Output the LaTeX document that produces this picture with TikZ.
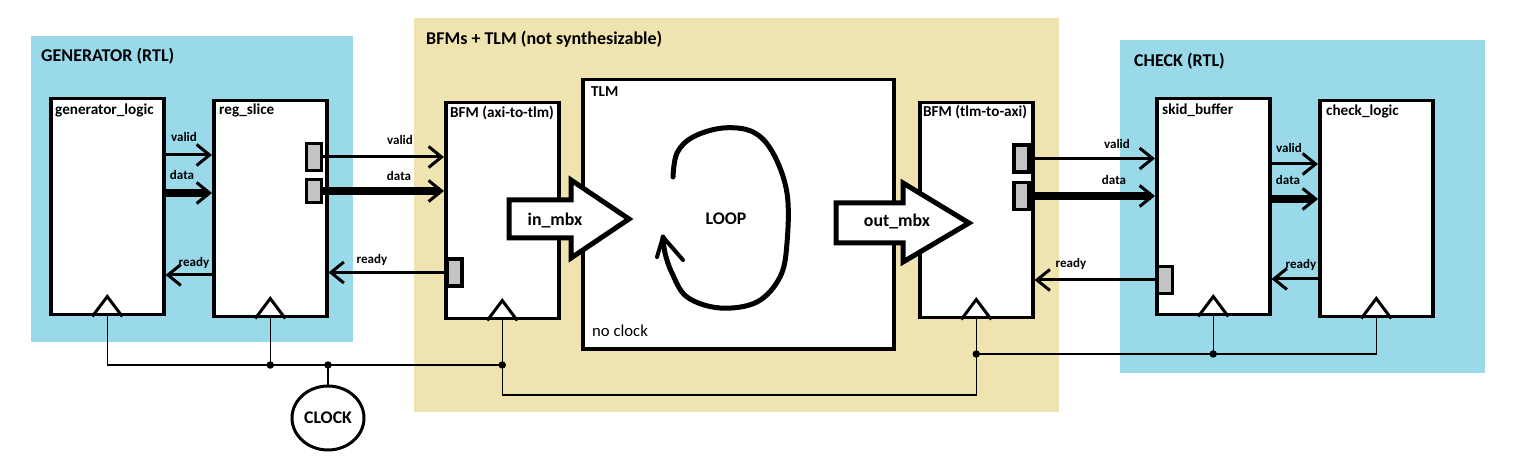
\documentclass[tikz,border=0pt]{standalone}
\usepackage{fontspec}
\setmainfont{Carlito}
\usetikzlibrary{arrows.meta,shapes.geometric}
\definecolor{rtlblue}{HTML}{99D9EA}
\definecolor{bfmtan}{HTML}{EFE4B0}
\definecolor{portgray}{HTML}{C3C3C3}
\tikzset{
  blk/.style={draw, line width=3.5pt, fill=white, anchor=north west, inner sep=0pt, minimum width=113pt, minimum height=216pt},
  port/.style={draw, line width=3.5pt, fill=portgray, inner sep=0pt, minimum width=15pt, minimum height=27pt},
  clktri/.style={draw, line width=3pt, line join=miter},
  wire/.style={line width=1.4pt},
  jdot/.style={circle, fill=black, inner sep=0pt, minimum size=7.5pt},
  sig/.style={line width=3pt, -{Straight Barb[length=13pt,width=21pt,line width=3pt]}},
  bus/.style={line width=7.5pt, -{Straight Barb[length=13pt,width=21pt,line width=3pt]}},
  gtitle/.style={font=\bfseries\fontsize{18}{21}\selectfont, anchor=west, inner sep=0pt, text height=12.5pt, text depth=4pt},
  btitle/.style={font=\bfseries\fontsize{15.2}{18}\selectfont, anchor=west, inner sep=0pt, text height=11pt, text depth=3.5pt},
  plaintitle/.style={font=\fontsize{16.7}{19}\selectfont, anchor=west, inner sep=0pt, text height=12pt, text depth=4pt},
  slabel/.style={font=\bfseries\fontsize{13}{15}\selectfont, inner sep=0pt, text height=9pt, text depth=3pt},
  biglabel/.style={font=\bfseries\fontsize{17.8}{20}\selectfont, inner sep=0pt, text height=12.5pt, text depth=3pt},
  mbx/.style={draw, line width=5pt, fill=white, line join=miter},
  loopline/.style={line width=5pt, line cap=round, line join=round},
}
\begin{document}
\begin{tikzpicture}[x=1pt,y=-1pt]
\useasboundingbox (0,0) rectangle (1518,470);
% background regions
\fill[rtlblue] (31,36) rectangle (353,342);
\fill[bfmtan] (414,18) rectangle (1059,412);
\fill[rtlblue] (1120,40) rectangle (1485,373);
\node[gtitle] (tgen) at (41,57) {GENERATOR (RTL)};
\node[gtitle] (tbfm) at (426,40) {BFMs + TLM (not synthesizable)};
\node[gtitle] (tchk) at (1134,62) {CHECK (RTL)};

% blocks
\node[blk] (genl) at (49,97) {};
\node[blk] (regs) at (212,99) {};
\node[blk] (bfmi) at (444,101) {};
\node[blk, minimum width=311pt, minimum height=269pt] (tlm) at (581,78) {};
\node[blk, minimum height=215pt] (bfmo) at (918,101) {};
\node[blk] (skid) at (1155,97) {};
\node[blk] (chkl) at (1318,99) {};

\node[btitle] (tgl) at (55,111) {generator\_logic};
\node[btitle] (trs) at (219,111) {reg\_slice};
\node[btitle] (tbi) at (450,114) {BFM (axi-to-tlm)};
\node[btitle] (ttl) at (591,93) {TLM};
\node[plaintitle] (tnc) at (592,333) {no clock};
\node[btitle] (tbo) at (923,113) {BFM (tlm-to-axi)};
\node[btitle] (tsb) at (1162,111) {skid\_buffer};
\node[btitle] (tcl) at (1326,112) {check\_logic};

% clock triangles
\foreach \b in {genl,regs,bfmi,bfmo,skid,chkl}{
  \draw[clktri] ([xshift=-15pt]\b.south) -- ([yshift=20pt]\b.south) -- ([xshift=15pt]\b.south);
}

% clock network
\node[draw, ellipse, line width=3pt, minimum width=72pt, minimum height=64pt, fill=white, inner sep=0pt, font=\bfseries\fontsize{17.8}{20}\selectfont] (clk) at (328,418) {CLOCK};
\coordinate (hy) at (0,365);
\coordinate (hy2) at (0,354);
\coordinate (ly) at (0,395);
\coordinate (j1) at (regs.south |- hy);
\coordinate (jc) at (clk.north |- hy);
\coordinate (j2) at (bfmi.south |- hy);
\coordinate (j3) at (bfmo.south |- hy2);
\coordinate (j4) at (skid.south |- hy2);
\coordinate (lo) at (bfmo.south |- ly);
\draw[wire] (genl.south) |- (j2);
\draw[wire] (regs.south) -- (j1);
\draw[wire] (clk.north) -- (jc);
\draw[wire] (bfmi.south) |- (lo) -- (bfmo.south);
\draw[wire] (j3) -| (chkl.south);
\draw[wire] (skid.south) -- (j4);
\foreach \j in {j1,jc,j2,j3,j4}{ \node[jdot] at (\j) {}; }

% ports
\node[port] (rsv) at (314,157) {};
\node[port, minimum height=23pt] (rsd) at (314,191) {};
\node[port] (bir) at (454.5,272.5) {};
\node[port] (bov) at (1021.5,158.5) {};
\node[port, minimum height=27pt] (bod) at (1021.5,196) {};
\node[port] (skr) at (1165,280) {};

% signals generator_logic <-> reg_slice
\coordinate (v1) at (0,155);
\coordinate (d1) at (0,193);
\coordinate (r1) at (0,275);
\draw[sig] (genl.east |- v1) -- (regs.west |- v1);
\draw[bus] (genl.east |- d1) -- (regs.west |- d1);
\draw[sig] (regs.west |- r1) -- (genl.east |- r1);
\node[slabel] (lv1) at (184,139) {valid};
\node[slabel] (ld1) at (182,177) {data};
\node[slabel] (lr1) at (194,264) {ready};

% reg_slice <-> BFM (axi-to-tlm)
\draw[sig] (rsv.east) -- (bfmi.west |- rsv.east);
\draw[bus] (rsd.east) -- (bfmi.west |- rsd.east);
\draw[sig] (bir.west) -- (regs.east |- bir.west);
\node[slabel] (lv2) at (400,142) {valid};
\node[slabel] (ld2) at (399,178) {data};
\node[slabel] (lr2) at (372,261) {ready};

% BFM (tlm-to-axi) <-> skid_buffer
\draw[sig] (bov.east) -- (skid.west |- bov.east);
\draw[bus] (bod.east) -- (skid.west |- bod.east);
\draw[sig] (skr.west) -- (bfmo.east |- skr.west);
\node[slabel] (lv3) at (1117,146) {valid};
\node[slabel] (ld3) at (1114,182) {data};
\node[slabel] (lr3) at (1071,265) {ready};

% skid_buffer <-> check_logic
\coordinate (v4) at (0,164);
\coordinate (d4) at (0,199);
\coordinate (r4) at (0,279);
\draw[sig] (skid.east |- v4) -- (chkl.west |- v4);
\draw[bus] (skid.east |- d4) -- (chkl.west |- d4);
\draw[sig] (chkl.west |- r4) -- (skid.east |- r4);
\node[slabel] (lv4) at (1289,150) {valid};
\node[slabel] (ld4) at (1288,182) {data};
\node[slabel] (lr4) at (1301,266) {ready};

% mailboxes
\draw[mbx] (509,200) -- (571,200) -- (571,180) -- (629,219) -- (571,258) -- (571,238) -- (509,238) -- cycle;
\node[biglabel] (inmbx) at (555,221) {in\_mbx};
\draw[mbx] (836,203) -- (903,203) -- (903,183) -- (969,223) -- (903,262) -- (903,243) -- (836,243) -- cycle;
\node[biglabel] (outmbx) at (897,222) {out\_mbx};

% loop
\draw[loopline] plot[smooth, tension=0.6] coordinates {(673,177) (677,153) (693,137) (723,128) (753,132) (773,153) (787,193) (787,243) (780,277) (757,302) (720,308) (687,297) (672,273) (665,253) (663,237)};
\draw[loopline, line width=4pt] (657,257) -- (663,237) -- (683,260);
\node[biglabel] (lp) at (726,220) {LOOP};
\end{tikzpicture}
\end{document}
